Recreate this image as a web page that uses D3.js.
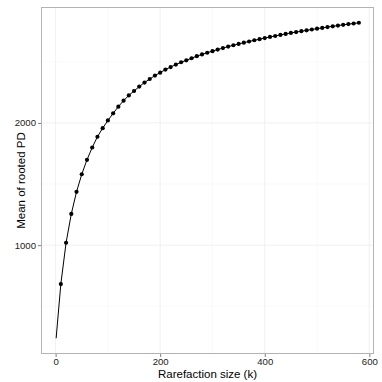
<!DOCTYPE html>
<html><head><meta charset="utf-8">
<script src="https://cdn.jsdelivr.net/npm/d3@7"></script>
<style>body{margin:0;background:#fff}svg{display:block}</style>
</head><body>
<script>
const sizes = [1,10,20,30,40,50,60,70,80,90,100,110,120,130,140,150,160,170,180,190,200,210,220,230,240,250,260,270,280,290,300,310,320,330,340,350,360,370,380,390,400,410,420,430,440,450,460,470,480,490,500,510,520,530,540,550,560,570,580];
const meanPD = [239,682,1020,1256,1436,1580,1698,1799,1887,1957,2020,2078,2133,2182,2225,2261,2297,2330,2359,2387,2411,2436,2457,2477,2496,2512,2529,2546,2560,2574,2587,2600,2612,2624,2635,2646,2656,2666,2676,2685,2694,2703,2711,2720,2728,2736,2743,2750,2757,2764,2771,2777,2784,2790,2796,2802,2808,2813,2819];
const showPoint = sizes.map(k => k >= 10);
const xTicks = [0,200,400,600];
const xMinor = [100,300,500];
const yTicks = [1000,2000];
const yMinor = [500,1500,2500];
const xTitle = "Rarefaction size (k)";
const yTitle = "Mean of rooted PD";

const W=382,H=382;
const P={l:41,r:374,t:7,b:354};
const svg=d3.select("body").append("svg").attr("width",W).attr("height",H);
const xr=d3.max(sizes)-d3.min(sizes), yr=d3.max(meanPD)-d3.min(meanPD);
const x=d3.scaleLinear().domain([d3.min(sizes)-xr*0.05,d3.max(sizes)+xr*0.05]).range([P.l,P.r]);
const y=d3.scaleLinear().domain([d3.min(meanPD)-yr*0.05,d3.max(meanPD)+yr*0.05]).range([P.b,P.t]);

const g=svg.append("g");
g.append("rect").attr("x",P.l).attr("y",P.t).attr("width",P.r-P.l).attr("height",P.b-P.t).attr("fill","#fff");
g.selectAll(".xm").data(xMinor).join("line").attr("x1",d=>x(d)).attr("x2",d=>x(d)).attr("y1",P.t).attr("y2",P.b).attr("stroke","#f6f6f6").attr("stroke-width",0.6);
g.selectAll(".ym").data(yMinor).join("line").attr("y1",d=>y(d)).attr("y2",d=>y(d)).attr("x1",P.l).attr("x2",P.r).attr("stroke","#f6f6f6").attr("stroke-width",0.6);
g.selectAll(".xg").data(xTicks).join("line").attr("x1",d=>x(d)).attr("x2",d=>x(d)).attr("y1",P.t).attr("y2",P.b).attr("stroke","#ececec").attr("stroke-width",0.8);
g.selectAll(".yg").data(yTicks).join("line").attr("y1",d=>y(d)).attr("y2",d=>y(d)).attr("x1",P.l).attr("x2",P.r).attr("stroke","#ececec").attr("stroke-width",0.8);

const data=sizes.map((k,i)=>({k,v:meanPD[i],p:showPoint[i]}));
g.append("path").datum(data).attr("fill","none").attr("stroke","#000").attr("stroke-width",1)
 .attr("d",d3.line().x(d=>x(d.k)).y(d=>y(d.v)));
g.selectAll("circle").data(data.filter(d=>d.p)).join("circle").attr("cx",d=>x(d.k)).attr("cy",d=>y(d.v)).attr("r",2.1).attr("fill","#000");

g.append("rect").attr("x",P.l+0.5).attr("y",P.t+0.5).attr("width",P.r-P.l-1).attr("height",P.b-P.t-1).attr("fill","none").attr("stroke","#b3b3b3").attr("stroke-width",1);

const xa=d3.axisBottom(x).tickValues(xTicks).tickSize(3).tickPadding(1).tickFormat(d3.format("d"));
const xg=svg.append("g").attr("transform",`translate(0,${P.b})`).call(xa);
const ya=d3.axisLeft(y).tickValues(yTicks).tickSize(3).tickPadding(2).tickFormat(d3.format("d"));
const yg=svg.append("g").attr("transform",`translate(${P.l},0)`).call(ya);
[xg,yg].forEach(a=>{a.select(".domain").remove();a.selectAll(".tick line").attr("stroke","#7f7f7f");a.selectAll("text").attr("fill","#222").style("font-family","Liberation Sans, Arial, sans-serif").style("font-size","9.6px");});

svg.append("text").attr("x",(P.l+P.r)/2).attr("y",377.5).attr("text-anchor","middle").style("font-family","Liberation Sans, Arial, sans-serif").style("font-size","11.5px").attr("fill","#000").text(xTitle);
svg.append("text").attr("transform",`translate(25,${(P.t+P.b)/2}) rotate(-90)`).attr("text-anchor","middle").style("font-family","Liberation Sans, Arial, sans-serif").style("font-size","11.5px").attr("fill","#000").text(yTitle);
</script>
</body></html>
